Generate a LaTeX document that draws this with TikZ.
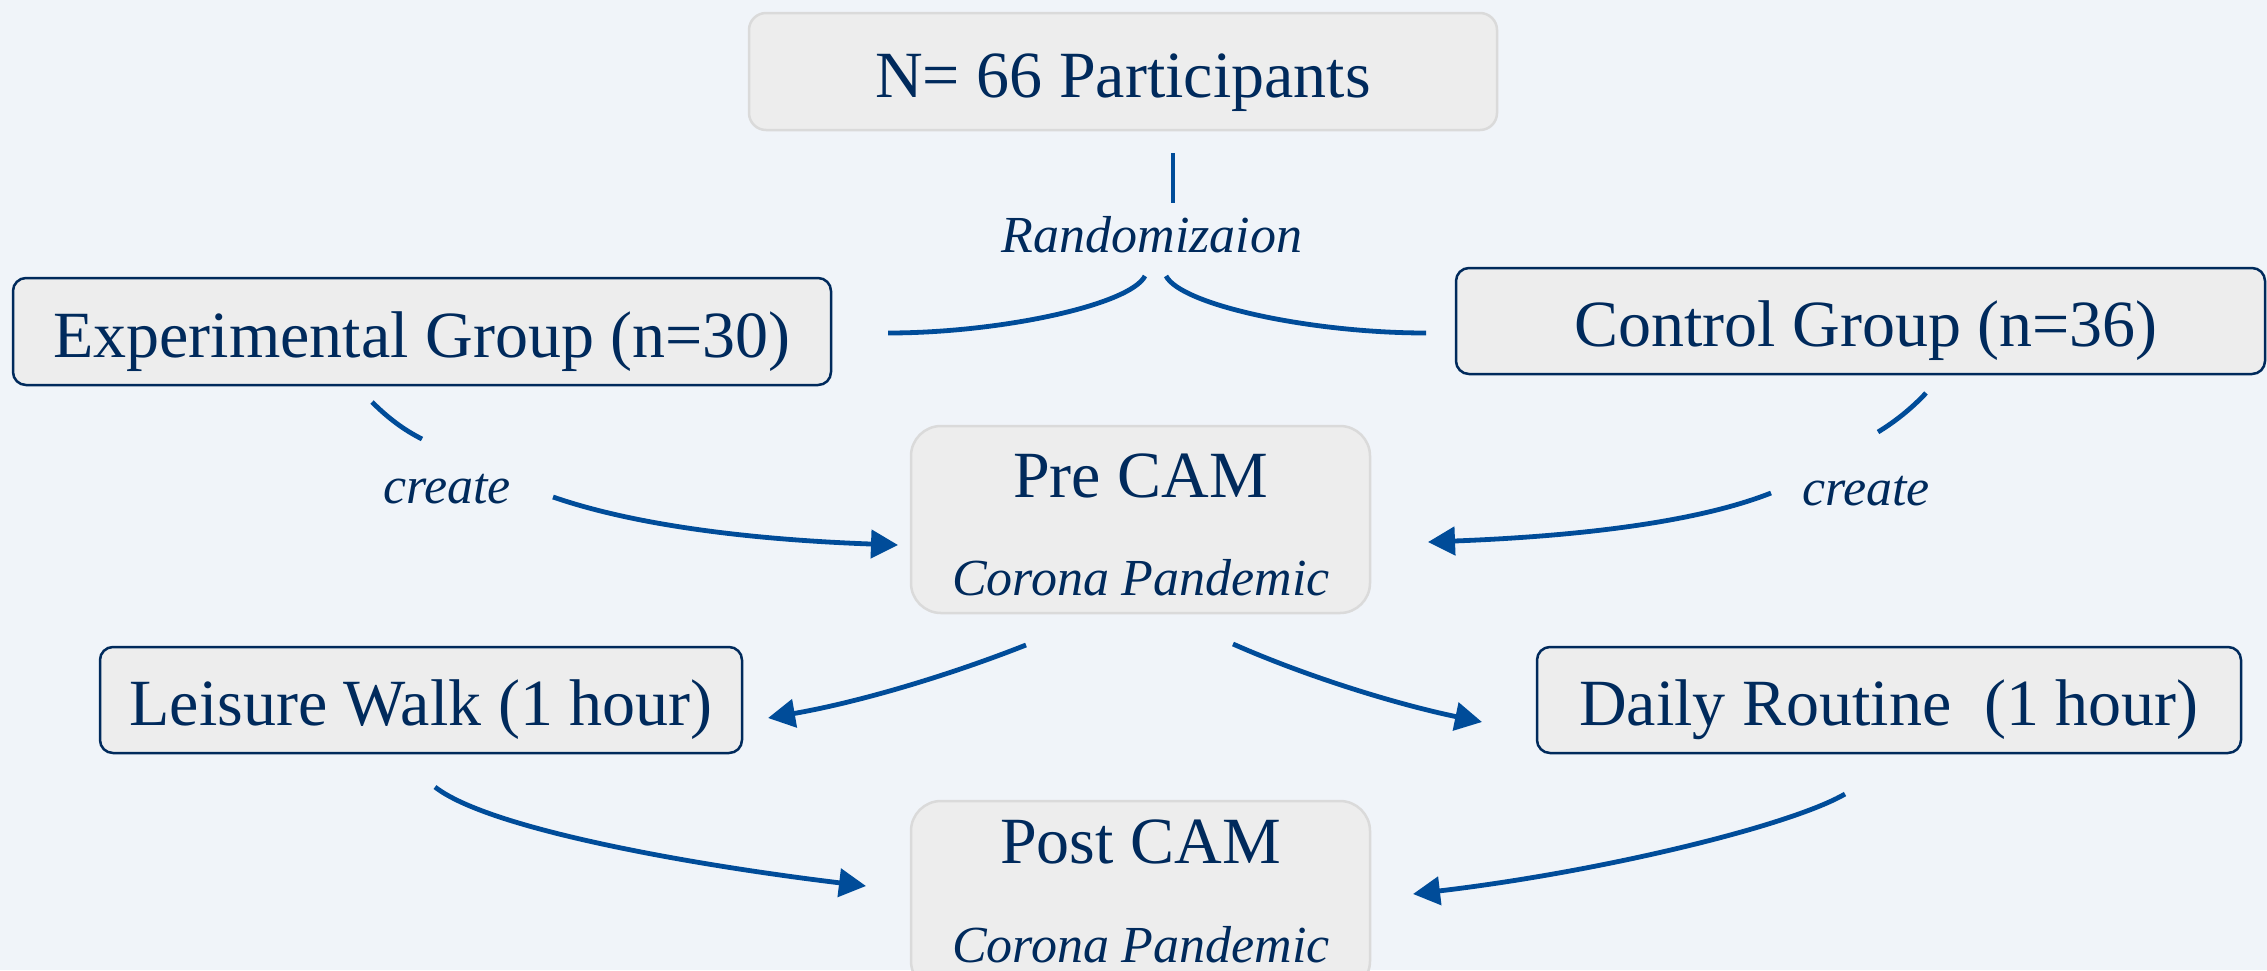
\documentclass[tikz,border=0pt]{standalone}
\usepackage{fontspec}
\setmainfont{Liberation Serif}
\usetikzlibrary{arrows.meta}

\definecolor{bgc}{HTML}{F0F4F9}
\definecolor{boxfill}{HTML}{EDEDED}
\definecolor{boxline}{HTML}{DADADA}
\definecolor{navy}{HTML}{002A5C}
\definecolor{link}{HTML}{004C99}

\begin{document}
\begin{tikzpicture}[x=1pt, y=-1pt,
  box/.style={draw=navy, line width=2.5pt, fill=boxfill, rounded corners=13pt,
    inner sep=0pt, text=navy, font=\fontsize{66}{79}\selectfont,
    text height=51pt, text depth=0pt},
  softbox/.style={box, draw=boxline, rounded corners=17pt},
  cambox/.style={softbox, rounded corners=30pt},
  camtitle/.style={anchor=base, inner sep=0pt, text=navy, font=\fontsize{66}{79}\selectfont},
  lab/.style={anchor=base, inner sep=0pt, text=navy, font=\fontsize{52}{62}\selectfont\itshape},
  conn/.style={draw=link, line width=4.8pt},
  arr/.style={conn, -{Triangle[length=27pt, width=28pt]}}
]
% canvas
\useasboundingbox (0,0) rectangle (2267,970);
\clip (0,0) rectangle (2267,970);
\fill[bgc] (0,0) rectangle (2267,970);

% boxes
\node[softbox, minimum width=748pt, minimum height=117pt] (n66) at (1123,71.5) {N= 66 Participants};
\node[box, minimum width=818pt, minimum height=107pt] (exp) at (422,331.5) {Experimental Group (n=30)};
\node[box, minimum width=809pt, minimum height=106pt] (ctrl) at (1860.5,321) {\hspace{11pt}Control Group (n=36)};
\node[cambox, minimum width=459pt, minimum height=187pt] (pre) at (1140.5,519.5) {};
\node[box, minimum width=642pt, minimum height=106pt] (walk) at (421,700) {Leisure Walk (1 hour)};
\node[box, minimum width=704pt, minimum height=106pt] (daily) at (1889,700) {Daily Routine\ \ (1 hour)};
\node[cambox, minimum width=459pt, minimum height=190pt] (post) at (1140.5,896) {};

% texts inside the CAM boxes
\node[camtitle] (pretitle) at (1140.5,497) {Pre CAM};
\node[lab] (presub) at (1141,595) {Corona Pandemic};
\node[camtitle] (posttitle) at (1140.5,863) {Post CAM};
\node[lab] (postsub) at (1141,962) {Corona Pandemic};

% edge labels
\node[lab] (rand) at (1152,252) {Randomizaion};
\node[lab] (create1) at (447,503) {create};
\node[lab] (create2) at (1866,505) {create};

% connector end points
\coordinate (r0) at (1173,153);
\coordinate (r1) at (1173,203);
\coordinate (rl0) at (1145,276);
\coordinate (rl1) at (888,333);
\coordinate (rr0) at (1166,276);
\coordinate (rr1) at (1426,333);
\coordinate (a1s) at (372,402);
\coordinate (a1e) at (422,439);
\coordinate (b1s) at (553,497);
\coordinate (b1e) at (898,545);
\coordinate (a2s) at (1926,393);
\coordinate (a2e) at (1878,432);
\coordinate (b2s) at (1771,493);
\coordinate (b2e) at (1428,542);
\coordinate (c3s) at (1026,645);
\coordinate (c3e) at (768,718);
\coordinate (c4s) at (1233,644);
\coordinate (c4e) at (1482,722);
\coordinate (c5s) at (435,787);
\coordinate (c5e) at (866,886);
\coordinate (c6s) at (1845,794);
\coordinate (c6e) at (1413,894);

% randomization split
\draw[conn] (r0) -- (r1);
\draw[conn] (rl0) .. controls (1130,305) and (1000,333) .. (rl1);
\draw[conn] (rr0) .. controls (1181,305) and (1311,333) .. (rr1);

% groups create the pre CAM
\draw[conn] (a1s) .. controls (388,418) and (404,430) .. (a1e);
\draw[arr] (b1s) .. controls (640,527) and (760,540) .. (b1e);
\draw[conn] (a2s) .. controls (1912,408) and (1896,421) .. (a2e);
\draw[arr] (b2s) .. controls (1690,525) and (1560,537) .. (b2e);

% pre CAM to the two conditions
\draw[arr] (c3s) .. controls (950,675) and (860,702) .. (c3e);
\draw[arr] (c4s) .. controls (1310,678) and (1400,705) .. (c4e);

% conditions to the post CAM
\draw[arr] (c5s) .. controls (490,830) and (700,866) .. (c5e);
\draw[arr] (c6s) .. controls (1790,826) and (1600,872) .. (c6e);
\end{tikzpicture}
\end{document}
